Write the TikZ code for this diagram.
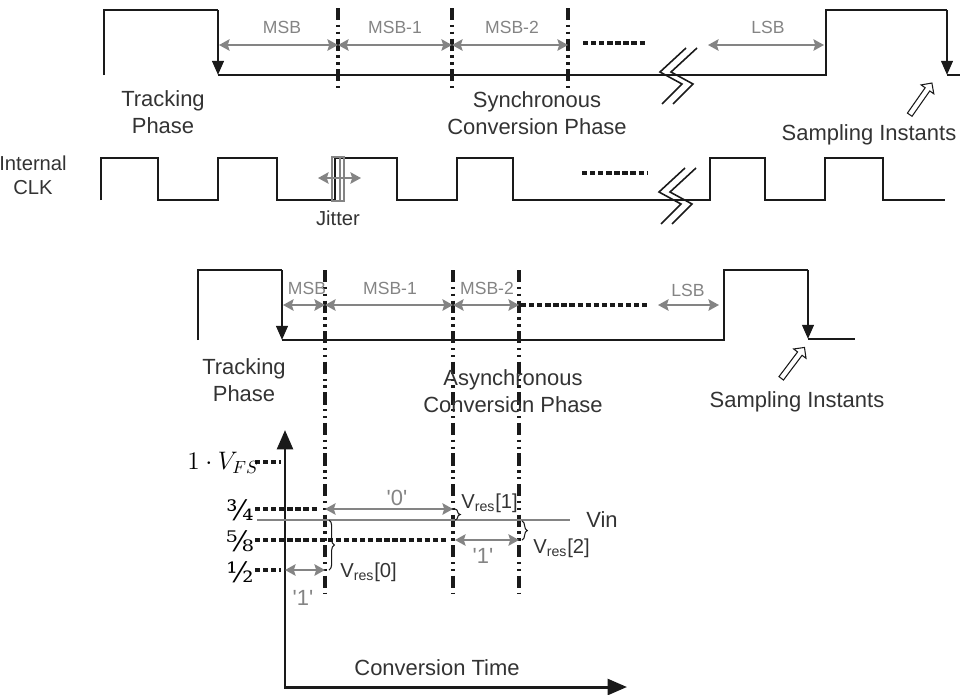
\documentclass[tikz,border=0pt]{standalone}
\usepackage{fontspec}
\setmainfont{Liberation Sans}
\newfontfamily\fracfont{DejaVu Serif}
\usetikzlibrary{arrows.meta,decorations.pathreplacing,shapes.arrows}
\definecolor{wave-black}{HTML}{1A1A1A}
\definecolor{bit-gray}{HTML}{848484}
\definecolor{txt-dark}{HTML}{333333}

\tikzset{
  wave/.style={line width=1.5pt, wave-black},
  edgearrow/.style={wave, -{Triangle[length=8pt,width=6.5pt]}},
  bitmark/.style={line width=1.9pt, wave-black, dash pattern=on 7pt off 2.6pt on 1.3pt off 2.6pt on 1.3pt off 2.6pt},
  bitspan/.style={bit-gray, line width=1.1pt, {Stealth[length=6pt,width=6.5pt,inset=1pt]}-{Stealth[length=6pt,width=6.5pt,inset=1pt]}},
  dotrow/.style={line width=2.3pt, wave-black, dash pattern=on 3pt off 1.6pt},
  bitlabel/.style={bit-gray, font=\fontsize{10}{12}\selectfont},
  bigtext/.style={txt-dark, font=\fontsize{12.5}{15.5}\selectfont, align=center},
  smalltext/.style={txt-dark, font=\fontsize{11.5}{13.5}\selectfont, align=center},
  levellabel/.style={inner sep=0pt, font=\fracfont\fontsize{16}{18}\selectfont},
  hollow/.style={single arrow, draw=wave-black, fill=white, line width=0.6pt,
    minimum height=22pt, inner sep=1.3pt, single arrow head extend=2.8pt},
  breakline/.style={line width=0.9pt, wave-black},
  resbrace/.style={decorate, decoration={brace, amplitude=3pt}, line width=0.6pt, wave-black},
  axis/.style={line width=1.7pt, wave-black, {Triangle[length=11pt,width=9pt]}-{Triangle[length=11pt,width=9pt]}},
  zigbreak/.pic={
    \draw[breakline] (26,0) -- (0,24) -- (22,36) -- (2,56);
    \draw[breakline] (37,0) -- (11,24) -- (33,36) -- (13,56);
  },
}

\begin{document}
\begin{tikzpicture}[x=0.02cm, y=-0.02cm]
    \useasboundingbox (0,0) rectangle (960,694);

    % Synchronous SAR: sampling signal
    \draw[wave] (104,75) -- (104,10) -- (218,10);
    \draw[edgearrow] (218,10) -- (218,75);
    \draw[wave] (218,75) -- (826,75) -- (826,10) -- (947,10);
    \draw[edgearrow] (947,10) -- (947,75);
    \draw[wave] (947,75) -- (960,75);
    \pic at (660,48) {zigbreak};

    % Bit cycles
    \foreach \x in {338,452,568}
        \draw[bitmark] (\x,8) -- (\x,92);
    \draw[bitspan] (219,45) -- (338,45);
    \draw[bitspan] (338,45) -- (452,45);
    \draw[bitspan] (452,45) -- (568,45);
    \draw[bitspan] (708,45) -- (824,45);
    \draw[dotrow] (583,43) -- (647,43);
    \node[bitlabel] (msbA) at (282,27) {MSB};
    \node[bitlabel] (msbAa) at (395,27) {MSB-1};
    \node[bitlabel] (msbAb) at (512,27) {MSB-2};
    \node[bitlabel] (lsbA) at (768,27) {LSB};

    % Phase labels
    \node[bigtext] (trackA) at (163,112) {Tracking\\Phase};
    \node[bigtext] (convA) at (537,113) {Synchronous\\Conversion Phase};
    \node[bigtext] (sampA) at (869,135) {Sampling Instants};
    \node[hollow, rotate=55] (sampArrowA) at (920,100) {};

    % Internal clock
    \node[smalltext] (clk) at (33,175) {Internal\\CLK};
    \draw[wave] (101,200) -- (101,158) -- (158,158) -- (158,200) -- (218,200) -- (218,158)
        -- (277,158) -- (277,200) -- (335,200) -- (335,158) -- (397,158) -- (397,200)
        -- (457,200) -- (457,158) -- (513,158) -- (513,200) -- (710,200) -- (710,158)
        -- (765,158) -- (765,200) -- (825,200) -- (825,158) -- (883,158) -- (883,200) -- (945,200);
    \draw[bit-gray, line width=0.6pt] (332,157) rectangle (344,201);
    \draw[bit-gray, line width=0.6pt] (340,157) -- (340,201);
    \draw[bitspan] (318,178) -- (361,178);
    \node[smalltext] (jitter) at (338,218) {Jitter};
    \draw[dotrow] (582,173) -- (647,173);
    \pic at (659,168) {zigbreak};

    % Asynchronous SAR: sampling signal
    \draw[wave] (198,340) -- (198,270) -- (282,270);
    \draw[edgearrow] (282,270) -- (282,340);
    \draw[wave] (282,340) -- (724,340) -- (724,270) -- (808,270);
    \draw[edgearrow] (808,270) -- (808,339);
    \draw[wave] (808,339) -- (855,339);

    % Bit cycles
    \foreach \x in {325,453,519}
        \draw[bitmark] (\x,270) -- (\x,594);
    \draw[bitspan] (283,305) -- (325,305);
    \draw[bitspan] (325,305) -- (453,305);
    \draw[bitspan] (453,305) -- (519,305);
    \draw[bitspan] (658,305) -- (719,305);
    \draw[dotrow] (521,305) -- (647,305);
    \node[bitlabel] (msbB) at (307,288) {MSB};
    \node[bitlabel] (msbBa) at (390,288) {MSB-1};
    \node[bitlabel] (msbBb) at (487,288) {MSB-2};
    \node[bitlabel] (lsbB) at (688,290) {LSB};

    % Phase labels
    \node[bigtext] (trackB) at (244,380) {Tracking\\Phase};
    \node[bigtext] (convB) at (513,391) {Asynchronous\\Conversion Phase};
    \node[bigtext] (sampB) at (797,402) {Sampling Instants};
    \node[hollow, rotate=53] (sampArrowB) at (792,364) {};

    % Axes
    \coordinate (origin) at (285,687);
    \coordinate (ytop) at (285,430);
    \coordinate (xend) at (627,687);
    \draw[axis] (ytop) -- (origin) -- (xend);
    \node[bigtext] (time) at (437,668) {Conversion Time};

    % Reference levels
    \draw[dotrow] (255,462) -- (281,462);
    \draw[dotrow] (255,509) -- (318,509);
    \draw[dotrow] (255,540) -- (447,540);
    \draw[dotrow] (255,570) -- (281,570);
    \node[font=\fontsize{14}{16}\selectfont] (vfs) at (223,463) {$1\cdot V_{FS}$};
    \node[levellabel] (lvA) at (240,510) {¾};
    \node[levellabel] (lvB) at (240,541) {⅝};
    \node[levellabel] (lvC) at (240,572) {½};

    % Input
    \draw[bit-gray, line width=1.3pt] (257,520) -- (570,520);
    \node[bigtext] (vin) at (602,520) {Vin};

    % Decisions
    \draw[bitspan] (285,570) -- (325,570);
    \draw[bitspan] (325,509) -- (453,509);
    \draw[bitspan] (455,540) -- (519,540);
    \node[bigtext, bit-gray] (bitA) at (303,598) {\textquotesingle1\textquotesingle};
    \node[bigtext, bit-gray] (bitB) at (397,498) {\textquotesingle0\textquotesingle};
    \node[bigtext, bit-gray] (bitC) at (483,556) {\textquotesingle1\textquotesingle};

    % Residues
    \draw[resbrace] (329,520) -- (329,570);
    \draw[resbrace] (455,509) -- (455,520);
    \draw[resbrace] (522,521) -- (522,540);
    \node[smalltext, anchor=west, inner sep=0pt] (resA) at (340,572) {V\textsubscript{res}[0]};
    \node[smalltext, anchor=west, inner sep=0pt] (resB) at (461,503) {V\textsubscript{res}[1]};
    \node[smalltext, anchor=west, inner sep=0pt] (resC) at (533,548) {V\textsubscript{res}[2]};

\end{tikzpicture}
\end{document}
